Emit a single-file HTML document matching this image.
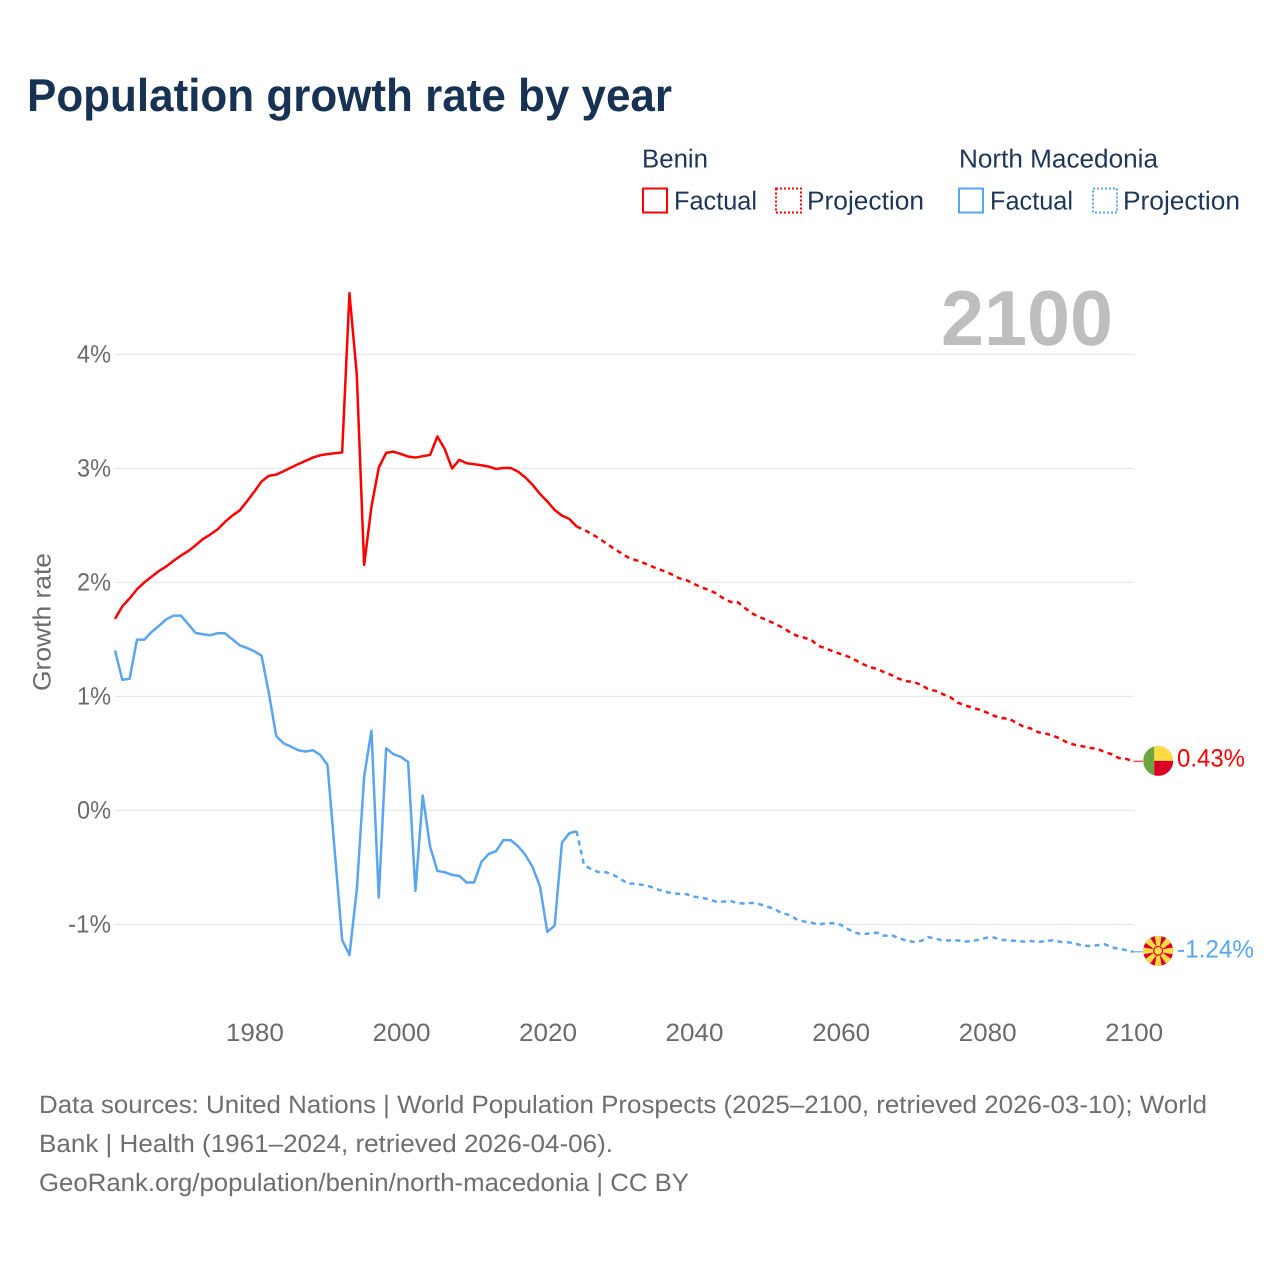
<!DOCTYPE html>
<html lang="en">
<head>
<meta charset="utf-8">
<title>Population growth rate by year</title>
<style>
html,body{margin:0;padding:0;background:#fff;}
svg{display:block;}
text{font-family:"Liberation Sans",sans-serif;text-rendering:geometricPrecision;}
</style>
</head>
<body>
<svg id="chart" xmlns="http://www.w3.org/2000/svg" width="1280" height="1280" viewBox="0 0 1280 1280">
  <rect width="1280" height="1280" fill="#ffffff"/>
  <text x="27" y="111" font-size="46" font-weight="700" fill="#183254" textLength="645" lengthAdjust="spacingAndGlyphs">Population growth rate by year</text>

  <g font-size="26" fill="#1d3557">
    <text x="642" y="167.5" textLength="66" lengthAdjust="spacingAndGlyphs">Benin</text>
    <text x="959" y="167.5" textLength="199" lengthAdjust="spacingAndGlyphs">North Macedonia</text>
    <g>
      <rect x="643" y="188.5" width="24" height="24" fill="none" stroke="#ff0000" stroke-width="2"/>
      <text x="674" y="209.5" textLength="83" lengthAdjust="spacingAndGlyphs">Factual</text>
    </g>
    <g>
      <rect x="776" y="188.5" width="25" height="24" fill="none" stroke="#ff0000" stroke-width="2" stroke-dasharray="2 2"/>
      <text x="807" y="209.5" textLength="117" lengthAdjust="spacingAndGlyphs">Projection</text>
    </g>
    <g>
      <rect x="959" y="188.5" width="24" height="24" fill="none" stroke="#5aa5ef" stroke-width="2"/>
      <text x="990" y="209.5" textLength="83" lengthAdjust="spacingAndGlyphs">Factual</text>
    </g>
    <g>
      <rect x="1093" y="188.5" width="24" height="24" fill="none" stroke="#5aa5ef" stroke-width="2" stroke-dasharray="2 2"/>
      <text x="1123" y="209.5" textLength="117" lengthAdjust="spacingAndGlyphs">Projection</text>
    </g>
  </g>

  <g id="grid"></g>
  <text x="941" y="345" font-size="78" font-weight="700" fill="#bebebe" textLength="172" lengthAdjust="spacingAndGlyphs">2100</text>
  <g id="yticks"></g>
  <g id="xticks"></g>
  <text transform="rotate(-90 50.5 622)" x="50.5" y="622" font-size="25" fill="#6b6b6b" text-anchor="middle" textLength="138" lengthAdjust="spacingAndGlyphs">Growth rate</text>
  <g id="series"></g>

  <g id="flag-benin">
    <clipPath id="clip-benin"><circle cx="0" cy="0" r="15"/></clipPath>
    <g clip-path="url(#clip-benin)">
      <rect x="-15" y="-15" width="30" height="30" fill="#ffda44"/>
      <rect x="-4" y="0" width="19" height="15" fill="#d80027"/>
      <rect x="-15" y="-15" width="11" height="30" fill="#6da544"/>
    </g>
  </g>
  <g id="flag-mk">
    <clipPath id="clip-mk"><circle cx="0" cy="0" r="15"/></clipPath>
    <g clip-path="url(#clip-mk)">
      <rect x="-15" y="-15" width="30" height="30" fill="#d80027"/>
      <g fill="#ffda44">
        <polygon points="-1,0 1,0 3.4,-15 -3.4,-15"/>
        <polygon points="-1,0 1,0 3.4,-15 -3.4,-15" transform="rotate(45)"/>
        <polygon points="-1,0 1,0 3.4,-15 -3.4,-15" transform="rotate(90)"/>
        <polygon points="-1,0 1,0 3.4,-15 -3.4,-15" transform="rotate(135)"/>
        <polygon points="-1,0 1,0 3.4,-15 -3.4,-15" transform="rotate(180)"/>
        <polygon points="-1,0 1,0 3.4,-15 -3.4,-15" transform="rotate(225)"/>
        <polygon points="-1,0 1,0 3.4,-15 -3.4,-15" transform="rotate(270)"/>
        <polygon points="-1,0 1,0 3.4,-15 -3.4,-15" transform="rotate(315)"/>
      </g>
      <circle r="5" fill="#d80027"/>
      <circle r="3.8" fill="#ffda44"/>
    </g>
  </g>
  <g id="end-labels"></g>

  <g font-size="25" fill="#6e6e6e">
    <text x="39" y="1113" textLength="1168" lengthAdjust="spacingAndGlyphs">Data sources: United Nations | World Population Prospects (2025–2100, retrieved 2026-03-10); World</text>
    <text x="39" y="1152" textLength="574" lengthAdjust="spacingAndGlyphs">Bank | Health (1961–2024, retrieved 2026-04-06).</text>
    <text x="39" y="1191" textLength="650" lengthAdjust="spacingAndGlyphs">GeoRank.org/population/benin/north-macedonia | CC BY</text>
  </g>
</svg>
<script>
const factualStartYear = 1961;
const projectionStartYear = 2024;
const yTicks = [4, 3, 2, 1, 0, -1];
const yTickLabels = ["4%", "3%", "2%", "1%", "0%", "-1%"];
const xTicks = [1980, 2000, 2020, 2040, 2060, 2080, 2100];
const endValueLabels = ["0.43%", "-1.24%"];
const beninFactual = [1.68,1.79,1.86,1.94,2.00,2.05,2.10,2.14,2.19,2.235,2.275,2.325,2.38,2.42,2.465,2.53,2.585,2.63,2.71,2.795,2.885,2.935,2.945,2.975,3.007,3.037,3.066,3.095,3.115,3.125,3.133,3.14,4.537,3.82,2.153,2.665,3.007,3.136,3.147,3.127,3.104,3.095,3.107,3.118,3.28,3.17,3.0,3.075,3.045,3.037,3.028,3.016,2.995,3.004,3.004,2.972,2.92,2.855,2.776,2.71,2.636,2.586,2.557,2.49];
const beninProjection = [2.49,2.463,2.426,2.388,2.344,2.30,2.26,2.22,2.197,2.174,2.148,2.12,2.098,2.07,2.036,2.02,1.987,1.958,1.934,1.905,1.861,1.829,1.826,1.774,1.726,1.695,1.668,1.639,1.607,1.568,1.533,1.516,1.496,1.443,1.421,1.395,1.373,1.351,1.32,1.285,1.256,1.241,1.212,1.186,1.154,1.133,1.127,1.101,1.063,1.048,1.019,0.993,0.946,0.922,0.902,0.882,0.858,0.829,0.809,0.805,0.768,0.735,0.718,0.686,0.674,0.656,0.63,0.592,0.575,0.563,0.548,0.542,0.513,0.493,0.46,0.452,0.43];
const macedoniaFactual = [1.402,1.145,1.156,1.498,1.498,1.566,1.618,1.677,1.709,1.709,1.633,1.557,1.545,1.537,1.554,1.554,1.502,1.449,1.425,1.396,1.358,1.028,0.653,0.589,0.56,0.528,0.516,0.528,0.487,0.399,-0.367,-1.136,-1.268,-0.697,0.297,0.70,-0.765,0.545,0.493,0.47,0.425,-0.706,0.13,-0.318,-0.531,-0.542,-0.566,-0.575,-0.633,-0.633,-0.452,-0.382,-0.358,-0.261,-0.261,-0.314,-0.39,-0.498,-0.668,-1.066,-1.01,-0.282,-0.2,-0.183];
const macedoniaProjection = [-0.183,-0.478,-0.516,-0.542,-0.542,-0.566,-0.601,-0.642,-0.642,-0.654,-0.668,-0.691,-0.712,-0.726,-0.732,-0.735,-0.756,-0.765,-0.779,-0.80,-0.80,-0.794,-0.814,-0.817,-0.811,-0.823,-0.844,-0.864,-0.902,-0.917,-0.954,-0.975,-0.984,-1.002,-0.99,-0.99,-1.002,-1.04,-1.072,-1.086,-1.08,-1.072,-1.10,-1.095,-1.121,-1.142,-1.153,-1.145,-1.112,-1.125,-1.142,-1.14,-1.14,-1.151,-1.145,-1.133,-1.116,-1.116,-1.135,-1.14,-1.145,-1.151,-1.145,-1.156,-1.145,-1.14,-1.153,-1.156,-1.168,-1.186,-1.189,-1.183,-1.173,-1.20,-1.215,-1.226,-1.24];

const SVGNS = "http://www.w3.org/2000/svg";
const plotLeft = 115, plotRight = 1133.5, x0Year = 1961, x1Year = 2100;
const zeroY = 810.4, pxPerPercent = 114;
function xScale(year) { return plotLeft + (year - x0Year) * (plotRight - plotLeft) / (x1Year - x0Year); }
function yScale(v) { return zeroY - v * pxPerPercent; }
function make(tag, parent, attrs, txt) {
  const el = document.createElementNS(SVGNS, tag);
  for (const k in attrs) el.setAttribute(k, attrs[k]);
  if (txt !== undefined) el.textContent = txt;
  parent.appendChild(el);
  return el;
}
const grid = document.getElementById("grid");
const yG = document.getElementById("yticks");
yTicks.forEach(function (t, i) {
  const line = make("line", grid, { x1: plotLeft, x2: plotRight, y1: yScale(t), y2: yScale(t), stroke: "#e9e9e9", "stroke-width": 1.3 });
  
  
  const widths = yTickLabels[i].length === 3 ? 43 : 34;
  const label = make("text", yG, { x: 111, y: yScale(t) + 8, "text-anchor": "end", "font-size": 25, fill: "#6b6b6b", textLength: widths, lengthAdjust: "spacingAndGlyphs" }, yTickLabels[i]);
  
  
});
const xG = document.getElementById("xticks");
xTicks.forEach(function (t) {
  const label = make("text", xG, { x: xScale(t) + 0.7, y: 1041, "text-anchor": "middle", "font-size": 25, fill: "#6b6b6b", textLength: 58, lengthAdjust: "spacingAndGlyphs" }, String(t));
  
  
});
function linePath(values, startYear) {
  return values.map(function (v, i) {
    return (i ? "L" : "M") + xScale(startYear + i).toFixed(2) + " " + yScale(v).toFixed(2);
  }).join("");
}
const seriesG = document.getElementById("series");
const lineCommon = { fill: "none", "stroke-width": 2.5, "stroke-linejoin": "round" };
function drawSeries(values, startYear, color, dash) {
  const attrs = Object.assign({ d: linePath(values, startYear), stroke: color }, lineCommon);
  if (dash) attrs["stroke-dasharray"] = dash;
  return make("path", seriesG, attrs);
}
const benF = drawSeries(beninFactual, factualStartYear, "#ff0000");


const benP = drawSeries(beninProjection, projectionStartYear, "#ff0000", "5 4.4");


const mkF = drawSeries(macedoniaFactual, factualStartYear, "#5aa5ef");


const mkP = drawSeries(macedoniaProjection, projectionStartYear, "#5aa5ef", "5 4.4");



const lastBen = beninProjection[beninProjection.length - 1];
const lastMk = macedoniaProjection[macedoniaProjection.length - 1];
const conn1 = make("line", seriesG, { x1: plotRight, x2: 1143, y1: yScale(lastBen), y2: yScale(lastBen), stroke: "#ff0000", "stroke-width": 1.5, opacity: 0.7 });


const conn2 = make("line", seriesG, { x1: plotRight, x2: 1143, y1: yScale(lastMk), y2: yScale(lastMk), stroke: "#5aa5ef", "stroke-width": 1.5, opacity: 0.7 });


document.getElementById("flag-benin").setAttribute("transform", "translate(1158.2 " + (yScale(lastBen) - 0.5) + ")");
document.getElementById("flag-mk").setAttribute("transform", "translate(1158.2 " + (yScale(lastMk) - 0.9) + ")");
const endG = document.getElementById("end-labels");
const endBen = make("text", endG, { x: 1177, y: yScale(lastBen) + 4.9, "font-size": 25, fill: "#ff0000", textLength: 68, lengthAdjust: "spacingAndGlyphs" }, endValueLabels[0]);


const endMk = make("text", endG, { x: 1177, y: yScale(lastMk) + 5.5, "font-size": 25, fill: "#5aa5ef", textLength: 77, lengthAdjust: "spacingAndGlyphs" }, endValueLabels[1]);


</script>
</body>
</html>
